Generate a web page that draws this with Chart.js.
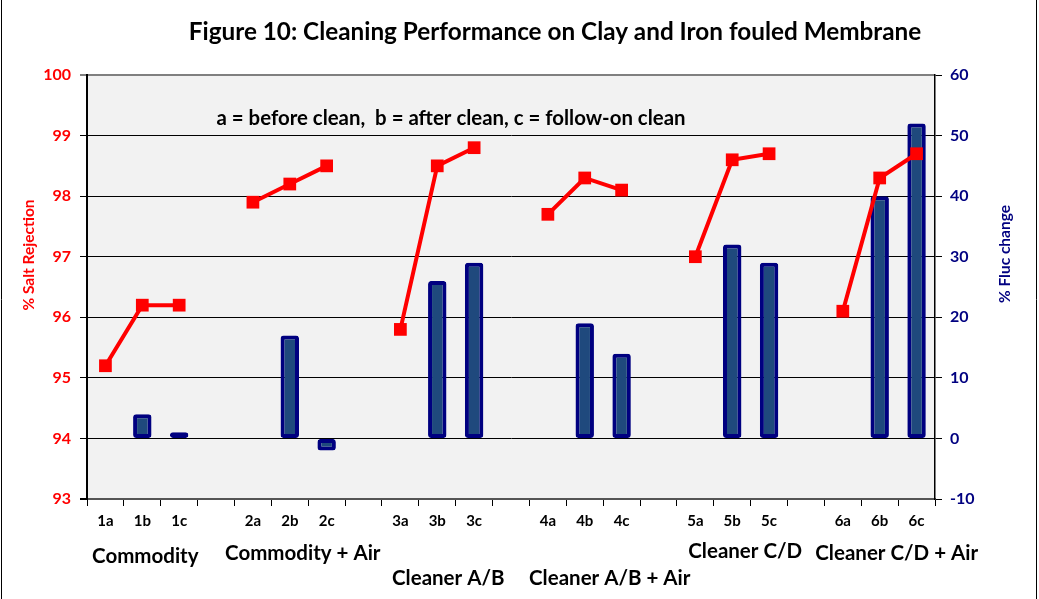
<!DOCTYPE html>
<html>
<head>
<meta charset="utf-8">
<script src="https://cdn.jsdelivr.net/npm/chart.js@4.4.1/dist/chart.umd.min.js"></script>
<style>
    body { margin: 0; background: #fff; }
    #wrap { width: 1039px; height: 599px; position: relative; }
</style>
</head>
<body>
<div id="wrap"><canvas id="cleanChart"></canvas></div>
<script>
// categories ('' = gap between groups)
const categories = ['1a', '1b', '1c', '', '2a', '2b', '2c', '', '3a', '3b', '3c', '',
    '4a', '4b', '4c', '', '5a', '5b', '5c', '', '6a', '6b', '6c'];

// % salt rejection (left axis)
const saltRejection = [95.2, 96.2, 96.2, null, 97.9, 98.2, 98.5, null, 95.8, 98.5, 98.8, null,
    97.7, 98.3, 98.1, null, 97.0, 98.6, 98.7, null, 96.1, 98.3, 98.7];

// % flux change (right axis)
const fluxChange = [null, 4, 1, null, null, 17, -2, null, null, 26, 29, null,
    null, 19, 14, null, null, 32, 29, null, null, 40, 52];

const groupNames = ['Commodity', 'Commodity + Air', 'Cleaner A/B', 'Cleaner A/B + Air', 'Cleaner C/D', 'Cleaner C/D + Air'];
const groupAnchor = ['1b', '2b', '3b', '4b', '5b', '6b'];

const titleText = 'Figure 10: Cleaning Performance on Clay and Iron fouled Membrane';
const noteText = 'a = before clean,  b = after clean, c = follow-on clean';

const FONT = 'Lato, "Open Sans", sans-serif';

// label placement under the axis (offset from anchor category, row y)
const groupDx = [3, 13, 11, 25, 13, 17];
const groupY = [556, 553, 578, 578, 551, 553];

const decorPlugin = {
    id: 'decor',
    beforeDraw(chart) {
        const { ctx, chartArea: a } = chart;
        ctx.save();
        ctx.fillStyle = '#F2F2F2';
        ctx.fillRect(a.left, a.top, a.right - a.left, a.bottom - a.top);
        ctx.restore();
    },
    afterDraw(chart) {
        const { ctx } = chart;
        const x = chart.scales.x;
        ctx.save();
        ctx.textAlign = 'center';
        ctx.textBaseline = 'middle';

        ctx.fillStyle = '#000';
        ctx.font = 'bold 24.3px ' + FONT;
        ctx.fillText(titleText, 555, 32);

        ctx.font = 'bold 20.4px ' + FONT;
        ctx.fillText(noteText, 451, 118);

        ctx.font = 'bold 20.5px ' + FONT;
        groupNames.forEach((name, i) => {
            const cx = x.getPixelForValue(categories.indexOf(groupAnchor[i])) + groupDx[i];
            ctx.fillText(name, cx, groupY[i]);
        });

        ctx.font = 'bold 15.5px ' + FONT;
        ctx.fillStyle = '#FF0000';
        ctx.translate(29, 255);
        ctx.rotate(-Math.PI / 2);
        ctx.fillText('% Salt Rejection', 0, 0);
        ctx.restore();

        ctx.save();
        ctx.font = 'bold 15.5px ' + FONT;
        ctx.fillStyle = '#000080';
        ctx.textAlign = 'center';
        ctx.textBaseline = 'middle';
        ctx.translate(1005, 254);
        ctx.rotate(-Math.PI / 2);
        ctx.fillText('% Fluc change', 0, 0);
        ctx.restore();

        // frame edges of the original figure
        ctx.save();
        ctx.strokeStyle = '#000';
        ctx.lineWidth = 1;
        ctx.beginPath();
        ctx.moveTo(1.5, 0); ctx.lineTo(1.5, 599);
        ctx.moveTo(1036.5, 0); ctx.lineTo(1036.5, 599);
        ctx.stroke();
        ctx.restore();
    }
};

new Chart(document.getElementById('cleanChart').getContext('2d'), {
    type: 'bar',
    data: {
        labels: categories,
        datasets: [{
            type: 'line',
            label: '% Salt Rejection',
            data: saltRejection,
            yAxisID: 'yLeft',
            borderColor: '#FF0000',
            backgroundColor: '#FF0000',
            borderWidth: 4,
            pointStyle: 'rect',
            pointRadius: 9,
            pointBorderWidth: 0,
            spanGaps: false,
            tension: 0,
            order: 0
        }, {
            type: 'bar',
            label: '% Fluc change',
            data: fluxChange,
            yAxisID: 'yRight',
            backgroundColor: '#1F497D',
            borderColor: '#000080',
            borderWidth: 4,
            borderSkipped: false,
            borderRadius: 3,
            categoryPercentage: 1,
            barPercentage: 0.5,
            order: 1
        }]
    },
    options: {
        responsive: true,
        maintainAspectRatio: false,
        animation: false,
        layout: { padding: { top: 75, left: 0, right: 0, bottom: 0 } },
        plugins: {
            legend: { display: false },
            title: { display: false },
            tooltip: { enabled: false }
        },
        scales: {
            x: {
                offset: true,
                afterFit: s => { s.height = 100; },
                border: { color: '#555', width: 2 },
                grid: { offset: true, drawOnChartArea: false, drawTicks: true, tickLength: 7, color: '#000' },
                ticks: { color: '#000', font: { family: FONT, size: 15, weight: 'bold' }, padding: 6, maxRotation: 0, autoSkip: false }
            },
            yLeft: {
                position: 'left',
                min: 93,
                max: 100,
                afterFit: s => { s.width = 87; },
                border: { color: '#000', width: 2 },
                grid: {
                    color: ctx => (ctx.tick && ctx.tick.value === 100 ? '#808080' : '#000'),
                    lineWidth: ctx => (ctx.tick && (ctx.tick.value === 100 || ctx.tick.value === 93) ? 2 : 1),
                    tickLength: 7
                },
                ticks: { stepSize: 1, color: '#FF0000', font: { family: FONT, size: 16, weight: 'bold' }, padding: 9 }
            },
            yRight: {
                position: 'right',
                min: -10,
                max: 60,
                afterFit: s => { s.width = 104; },
                border: { color: '#000', width: 1.5 },
                grid: { drawOnChartArea: false, tickLength: 7, color: '#000' },
                ticks: { stepSize: 10, color: '#000080', font: { family: FONT, size: 16, weight: 'bold' }, padding: 8 }
            }
        }
    },
    plugins: [decorPlugin]
});
</script>
</body>
</html>
